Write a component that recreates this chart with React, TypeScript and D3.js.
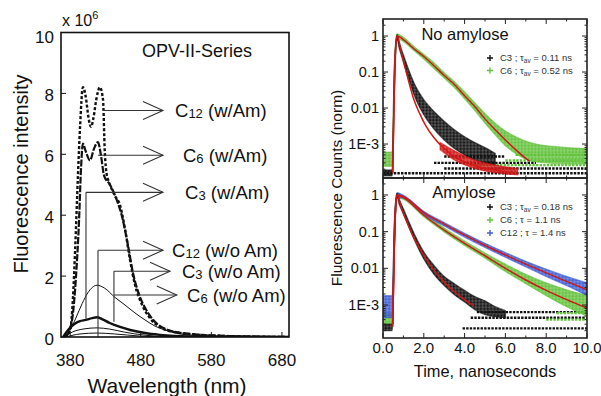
import React from 'react';
import * as d3 from 'd3';

// ---------- left: emission spectra (intensity, x 1e6) ----------
const wlC12Am = [372.7, 380, 384, 387, 391, 394, 398, 402, 406, 409.5, 413, 417, 422, 426.5, 429, 432, 434, 443, 451, 458, 465, 472, 482, 493, 507, 528, 564, 606, 690];
const inC12Am = [0, 0.23, 1.3, 2.85, 5.3, 6.9, 8.2, 7.9, 7.2, 6.9, 7.2, 7.8, 8.2, 7.8, 6.1, 5.3, 5.15, 4.65, 4.3, 3.5, 2.5, 1.7, 1.05, 0.62, 0.33, 0.16, 0.07, 0.03, 0];
const wlC6Am = [374, 382.6, 388, 392.5, 395.3, 398, 402, 408, 414, 419.4, 423.7, 428, 436.4, 446, 453, 462, 469, 477.5, 487.4, 500, 518.6, 550, 606, 690];
const inC6Am = [0, 0.55, 1.9, 3.8, 5.5, 6.35, 6.1, 5.8, 6.2, 6.4, 5.95, 5.3, 5.0, 4.5, 4.0, 3.0, 2.1, 1.4, 0.9, 0.5, 0.23, 0.1, 0.03, 0];
const wlThin = [371, 380, 388, 397, 405, 418, 429, 443.5, 457.7, 471.8, 486, 500, 514, 535.6, 578, 690];
const inThin = [0, 0.23, 0.62, 1.1, 1.45, 1.7, 1.6, 1.3, 1.05, 0.79, 0.56, 0.36, 0.23, 0.1, 0.03, 0];
const wlThick = [370, 377, 386, 394, 402, 411, 418, 425, 436, 450.6, 465, 486, 507, 550, 690];
const inThick = [0, 0.23, 0.43, 0.52, 0.56, 0.62, 0.65, 0.59, 0.46, 0.33, 0.23, 0.13, 0.07, 0.02, 0];
const wlLow = [371, 387, 401, 418, 436, 457, 486, 535, 690];
const inLow = [0, 0.2, 0.27, 0.3, 0.26, 0.16, 0.06, 0, 0];
const wlLowest = [374, 394, 418, 443, 479, 521, 690];
const inLowest = [0, 0.1, 0.13, 0.1, 0.03, 0, 0];

const wlTicks = [380, 480, 580, 680];
const intTicks = [0, 2, 4, 6, 8, 10];

// callouts: leader level (x1e6), where it starts (nm), where the vertical leg ends, arrow tip (nm)
const calloutSub = ['12', '6', '3', '12', '3', '6'];
const calloutNote = ['(w/Am)', '(w/Am)', '(w/Am)', '(w/o  Am)', '(w/o Am)', '(w/o Am)'];
const calloutLevel = [7.44, 5.97, 4.75, 2.85, 2.16, 1.38];
const calloutFrom = [426.5, 419.4, 402.4, 419.4, 442, 442];
const calloutDrop: (number | null)[] = [null, null, 0.6, 0, 0.5, null];
const calloutTip = [511.5, 511.5, 511.5, 511.5, 521.4, 531];
const calloutText = [528.5, 539.8, 542.7, 524.3, 538.4, 545.5];

// ---------- right: decays, no amylose ----------
const tNoC3 = [0, 0.45, 0.55, 0.62, 0.69, 0.8, 1.0, 1.3, 1.6, 2.0, 2.5, 3.0, 3.5, 4.0, 4.5, 5.0, 5.5];
const loNoC3 = [1.3e-4, 1.3e-4, 0.02, 0.3, 0.8, 0.45, 0.19, 0.055, 0.018, 6.5e-3, 2.6e-3, 1.3e-3, 7.5e-4, 5e-4, 3.6e-4, 3e-4, 2.6e-4];
const hiNoC3 = [1.9e-4, 1.9e-4, 0.1, 0.6, 1.1, 0.65, 0.3, 0.1, 0.04, 0.017, 8e-3, 4.3e-3, 2.5e-3, 1.6e-3, 1.1e-3, 8e-4, 5.5e-4];
const tNoC6 = [0, 0.45, 0.55, 0.62, 0.69, 1.0, 1.5, 2.0, 2.5, 3.0, 3.5, 4.0, 4.5, 5.0, 5.5, 6.0, 6.5, 7.0, 7.5, 8.0, 9.0, 10.0];
const loNoC6 = [2.4e-4, 2.4e-4, 0.03, 0.4, 0.85, 0.7, 0.4, 0.23, 0.125, 0.068, 0.037, 0.018, 8.5e-3, 3.8e-3, 1.8e-3, 9e-4, 5.5e-4, 3.8e-4, 3.2e-4, 3e-4, 2.8e-4, 2.8e-4];
const hiNoC6 = [6e-4, 6e-4, 0.12, 0.65, 1.15, 0.92, 0.52, 0.31, 0.18, 0.095, 0.054, 0.028, 0.014, 7e-3, 3.8e-3, 2.3e-3, 1.6e-3, 1.2e-3, 1e-3, 9e-4, 8e-4, 7.5e-4];
const tNoRed = [2.8, 3.5, 4.5, 5.5, 6.6];
const loNoRed = [7e-4, 3.6e-4, 2.1e-4, 1.6e-4, 1.4e-4];
const hiNoRed = [1.1e-3, 6.5e-4, 3.6e-4, 2.6e-4, 2.1e-4];
const tFitNoC3 = [0.48, 0.6, 0.69, 0.9, 1.1, 1.3, 1.5, 1.8, 2.1, 2.5, 3.0, 3.5, 4.0, 4.5, 5.0, 5.5, 6.0, 6.5];
const fitNoC3 = [1.6e-4, 0.3, 1, 0.35, 0.12, 0.045, 0.018, 7e-3, 3.2e-3, 1.5e-3, 7.5e-4, 4.5e-4, 3.2e-4, 2.5e-4, 2.1e-4, 1.9e-4, 1.7e-4, 1.6e-4];
const tFitNoC6 = [0.48, 0.6, 0.69, 1.0, 1.5, 2.0, 2.5, 3.0, 3.5, 4.0, 4.5, 5.0, 5.5, 6.0, 6.5, 7.0, 7.2];
const fitNoC6 = [1.6e-4, 0.3, 1, 0.8, 0.45, 0.27, 0.15, 0.08, 0.045, 0.022, 0.011, 5e-3, 2.5e-3, 1.3e-3, 7e-4, 4e-4, 3.3e-4];
const floorNoLevel = [1.55e-4, 2.1e-4, 3e-4, 4.5e-4, 2.6e-4, 3.5e-4, 5e-4];
const floorNoStart = [0, 3, 2.5, 3, 4.5, 6, 6.5];
const floorNoEnd = [10, 10, 7.5, 6, 10, 10, 10];
const floorNoSeries = ['C3', 'C3', 'C3', 'C3', 'C6', 'C6', 'C6'];

// ---------- right: decays, amylose ----------
const tAmC3 = [0, 0.45, 0.55, 0.62, 0.69, 0.8, 1.0, 1.3, 1.6, 2.0, 2.5, 3.0, 3.5, 4.0, 4.5, 5.0, 5.5, 6.0];
const loAmC3 = [2e-4, 2e-4, 0.03, 0.35, 0.85, 0.55, 0.3, 0.12, 0.05, 0.018, 6.8e-3, 3.4e-3, 1.9e-3, 1.2e-3, 7.5e-4, 5.5e-4, 4.8e-4, 4.5e-4];
const hiAmC3 = [3e-4, 3e-4, 0.12, 0.65, 1.1, 0.75, 0.42, 0.17, 0.072, 0.028, 0.012, 6e-3, 3.8e-3, 2.5e-3, 1.7e-3, 1.3e-3, 9e-4, 7e-4];
const tAm = [0, 0.45, 0.55, 0.62, 0.69, 1, 2, 3, 4, 5, 6, 7, 8, 9, 10];
const loAmC6 = [3e-4, 3e-4, 0.03, 0.35, 0.85, 0.76, 0.255, 0.098, 0.042, 0.019, 8.2e-3, 3.8e-3, 1.8e-3, 9e-4, 5e-4];
const hiAmC6 = [6e-4, 6e-4, 0.12, 0.65, 1.12, 0.93, 0.31, 0.125, 0.055, 0.026, 0.013, 6.8e-3, 4e-3, 2.6e-3, 1.8e-3];
const loAmC12 = [4.5e-4, 4.5e-4, 0.03, 0.35, 0.85, 0.82, 0.295, 0.142, 0.071, 0.037, 0.02, 0.011, 6e-3, 3.4e-3, 1.8e-3];
const hiAmC12 = [1.8e-3, 1.8e-3, 0.12, 0.65, 1.15, 0.98, 0.36, 0.177, 0.09, 0.048, 0.027, 0.0155, 9.5e-3, 6e-3, 4e-3];
const tFitAmC3 = [0.48, 0.6, 0.69, 0.9, 1.2, 1.5, 1.8, 2.2, 2.6, 3.0, 3.5, 4.0, 4.45];
const fitAmC3 = [2.5e-4, 0.3, 1, 0.45, 0.17, 0.07, 0.035, 0.015, 7.5e-3, 4.2e-3, 2.3e-3, 1.4e-3, 9.5e-4];
const tFitAm = [0.48, 0.6, 0.69, 1, 2, 3, 4, 5, 6, 7, 8, 9, 10];
const fitAmC6 = [3e-4, 0.3, 1, 0.85, 0.28, 0.11, 0.048, 0.022, 0.01, 4.8e-3, 2.5e-3, 1.4e-3, 8.2e-4];
const fitAmC12 = [3e-4, 0.3, 1, 0.9, 0.33, 0.16, 0.08, 0.042, 0.023, 0.013, 7.5e-3, 4.4e-3, 2.6e-3];
const floorAmLevel = [6.4e-4, 4.5e-4, 2.3e-4, 6e-4, 4e-4];
const floorAmStart = [4.6, 4.3, 3.9, 8.5, 8];
const floorAmEnd = [10, 10, 10, 10, 10];
const floorAmSeries = ['C3', 'C3', 'C3', 'C6', 'C6'];

const legendNoName = ['C3', 'C6'];
const legendNoTau = ['0.11', '0.52'];
const legendAmName = ['C3', 'C6', 'C12'];
const legendAmTau = ['0.18', '1.1', '1.4'];
const legendAmAvg = [true, false, false];

const decayTicks = [0, 2, 4, 6, 8, 10];
const decayYTicks = [1, 0.1, 0.01, 0.001];
const decayYLabels = ['1', '0.1', '0.01', '1E-3'];

const FONT = "'Liberation Sans', Arial, Helvetica, sans-serif";
const COLOR: Record<string, string> = { C3: '#111111', C6: '#62c23c', C12: '#3f5fd4', R: '#d01818' };
const RED = COLOR.R;

const App: React.FC = () => {
  // left panel
  const x = d3.scaleLinear().domain([367, 690]).range([61, 289]);
  const y = d3.scaleLinear().domain([0, 10]).range([337, 32.5]);
  const spec = d3.line<[number, number]>()
    .x(d => x(d[0])).y(d => y(d[1])).curve(d3.curveMonotoneX);
  const spectra = [
    { wl: wlLowest, v: inLowest, w: 1, dash: undefined },
    { wl: wlLow, v: inLow, w: 1, dash: undefined },
    { wl: wlThick, v: inThick, w: 2.4, dash: undefined },
    { wl: wlThin, v: inThin, w: 1, dash: undefined },
    { wl: wlC6Am, v: inC6Am, w: 2.2, dash: '7 1.6' },
    { wl: wlC12Am, v: inC12Am, w: 2.4, dash: '3 2' },
  ];

  // right panel
  const tx = d3.scaleLinear().domain([0, 10]).range([383, 587]);
  const yNo = d3.scaleLog().domain([1.14e-4, 2.97]).range([178, 19]);
  const yAm = d3.scaleLog().domain([1.26e-4, 2.9]).range([338, 178]);

  const band = (ys: d3.ScaleLogarithmic<number, number>, t: number[], lo: number[], hi: number[]) =>
    d3.area<number>().x(i => tx(t[i])).y0(i => ys(lo[i])).y1(i => ys(hi[i])).curve(d3.curveMonotoneX)(d3.range(t.length)) || '';
  const fit = (ys: d3.ScaleLogarithmic<number, number>, t: number[], v: number[]) =>
    d3.line<number>().x(i => tx(t[i])).y(i => ys(v[i])).curve(d3.curveMonotoneX)(d3.range(t.length)) || '';

  const logMinor = (ys: d3.ScaleLogarithmic<number, number>) => {
    const [a, b] = ys.domain();
    const out: { v: number; major: boolean }[] = [];
    for (let e = -4; e <= 0; e++) for (let m = 1; m <= 9; m++) {
      const v = m * Math.pow(10, e);
      if (v >= a && v <= b) out.push({ v, major: m === 1 });
    }
    return out;
  };

  const plus = (cx: number, cy: number, s: number) => `M${cx - s},${cy}H${cx + s}M${cx},${cy - s}V${cy + s}`;

  const frame = (ys: d3.ScaleLogarithmic<number, number>, top: number, bottom: number, key: string) => (
    <g key={key}>
      {logMinor(ys).map((d, i) => {
        const len = d.major ? 5 : 2.5;
        return (
          <g key={i}>
            <line x1={383} x2={383 + len} y1={ys(d.v)} y2={ys(d.v)} stroke="#222" strokeWidth={1} />
            <line x1={587} x2={587 - len} y1={ys(d.v)} y2={ys(d.v)} stroke="#222" strokeWidth={1} />
          </g>
        );
      })}
      {d3.range(0, 10.01, 1).map((v, i) => {
        const len = v % 2 === 0 ? 5 : 2.5;
        return (
          <g key={'t' + i}>
            <line x1={tx(v)} x2={tx(v)} y1={top} y2={top + len} stroke="#222" strokeWidth={1} />
            <line x1={tx(v)} x2={tx(v)} y1={bottom} y2={bottom - len} stroke="#222" strokeWidth={1} />
          </g>
        );
      })}
      {decayYTicks.map((v, i) => (
        <text key={'l' + i} x={379} y={ys(v)} dy="0.35em" textAnchor="end" fontSize={14.5} fill="#111">{decayYLabels[i]}</text>
      ))}
      <rect x={383} y={top} width={204} height={bottom - top} fill="none" stroke="#222" strokeWidth={1.6} />
    </g>
  );

  const floors = (ys: d3.ScaleLogarithmic<number, number>, lv: number[], s: number[], e: number[], ser: string[]) =>
    lv.map((v, i) => (
      <line key={'f' + i} x1={tx(s[i])} x2={tx(e[i])} y1={ys(v)} y2={ys(v)}
        stroke={COLOR[ser[i]]} strokeWidth={2.4} strokeDasharray="2.4 1.2" />
    ));

  // scatter look: dense band with a tile of small plus markers on top
  const cloud = (d: string, key: string, id: string) => (
    <g key={key}>
      <path d={d} fill={COLOR[id]} fillOpacity={0.72} stroke={COLOR[id]} strokeWidth={1.3} strokeOpacity={0.6} />
      <path d={d} fill={`url(#pl${id})`} stroke="none" />
    </g>
  );

  return (
    <svg width={601} height={396} viewBox="0 0 601 396"
      style={{ position: 'absolute', left: 0, top: 0, background: '#fff' }} fontFamily={FONT}>
      <rect width={601} height={396} fill="#fff" />
      <defs>
        <clipPath id="clipL"><rect x={61} y={32} width={228} height={305} /></clipPath>
        <clipPath id="clipNo"><rect x={383} y={19} width={204} height={159} /></clipPath>
        <clipPath id="clipAm"><rect x={383} y={178} width={204} height={160} /></clipPath>
        {Object.keys(COLOR).map(k => (
          <pattern key={k} id={'pl' + k} width={3.4} height={3.2} patternUnits="userSpaceOnUse">
            <path d="M0.2,1.6H3.0M1.6,0.2V3.0" stroke={COLOR[k]} strokeWidth={1} />
          </pattern>
        ))}
      </defs>

      {/* ---------------- left panel ---------------- */}
      <g clipPath="url(#clipL)">
        {spectra.map((s, i) => (
          <path key={i} d={spec(d3.zip(s.wl, s.v) as [number, number][]) || ''} fill="none"
            stroke="#111" strokeWidth={s.w} strokeDasharray={s.dash} strokeLinejoin="round" />
        ))}
      </g>
      {calloutLevel.map((lv, i) => {
        const yy = y(lv);
        const x0 = x(calloutFrom[i]);
        const tip = x(calloutTip[i]);
        const drop = calloutDrop[i];
        return (
          <g key={'c' + i}>
            {drop !== null && <line x1={x0} x2={x0} y1={yy} y2={y(drop)} stroke="#333" strokeWidth={1.1} />}
            <line x1={x0} x2={tip} y1={yy} y2={yy} stroke="#333" strokeWidth={1.1} />
            <path d={`M${tip - 20},${yy - 9}L${tip},${yy}L${tip - 20},${yy + 9}`} fill="none" stroke="#333" strokeWidth={1.1} />
            <text x={x(calloutText[i])} y={yy + 7} fontSize={18.5} fill="#111">
              C<tspan fontSize={13} dy={1}>{calloutSub[i]}</tspan>
              <tspan dy={-1}>{(i === 3 ? '  ' : ' ') + calloutNote[i]}</tspan>
            </text>
          </g>
        );
      })}
      {intTicks.map(v => (
        <g key={'yi' + v}>
          <line x1={61} x2={66} y1={y(v)} y2={y(v)} stroke="#111" strokeWidth={1} />
          <text x={54} y={y(v) + (v === 10 ? 5 : 2)} dy="0.35em" textAnchor="end" fontSize={17} fill="#111">{v}</text>
        </g>
      ))}
      {wlTicks.map(v => (
        <g key={'xw' + v}>
          <line x1={x(v)} x2={x(v)} y1={337} y2={332} stroke="#111" strokeWidth={1} />
          <text x={x(v)} y={366} textAnchor="middle" fontSize={17} fill="#111">{v}</text>
        </g>
      ))}
      <rect x={61} y={32.5} width={228} height={304.5} fill="none" stroke="#111" strokeWidth={1.6} />
      <text x={62} y={26} fontSize={16} fill="#111">x 10<tspan fontSize={11} dy={-7}>6</tspan></text>
      <text x={197} y={57} textAnchor="middle" fontSize={18} fill="#111">OPV-II-Series</text>
      <text transform="translate(28,174) rotate(-90)" textAnchor="middle" fontSize={20} fill="#111">Fluorescence intensity</text>
      <text x={167} y={393} textAnchor="middle" fontSize={21} fill="#111">Wavelength (nm)</text>

      {/* ---------------- right panel: no amylose ---------------- */}
      <g clipPath="url(#clipNo)">
        {cloud(band(yNo, tNoC6, loNoC6, hiNoC6), 'n6', 'C6')}
        {floors(yNo, floorNoLevel, floorNoStart, floorNoEnd, floorNoSeries)}
        {cloud(band(yNo, tNoC3, loNoC3, hiNoC3), 'n3', 'C3')}
        {cloud(band(yNo, tNoRed, loNoRed, hiNoRed), 'nr', 'R')}
        <path d={fit(yNo, tFitNoC6, fitNoC6)} fill="none" stroke={RED} strokeWidth={1.5} />
        <path d={fit(yNo, tFitNoC3, fitNoC3)} fill="none" stroke={RED} strokeWidth={1.5} />
      </g>
      {frame(yNo, 19, 178, 'fno')}
      <text x={465} y={40} textAnchor="middle" fontSize={16.5} fill="#111">No amylose</text>
      {legendNoName.map((n, i) => (
        <g key={'ln' + i}>
          <path d={plus(490, 58 + i * 12.5, 3)} stroke={COLOR[n]} strokeWidth={1.4} />
          <text x={500} y={58 + i * 12.5} dy="0.35em" fontSize={9.5} fill="#333">
            {n} ; τ<tspan fontSize={6.5} dy={2}>av</tspan><tspan dy={-2}> = {legendNoTau[i]} ns</tspan>
          </text>
        </g>
      ))}

      {/* ---------------- right panel: amylose ---------------- */}
      <g clipPath="url(#clipAm)">
        {floors(yAm, floorAmLevel, floorAmStart, floorAmEnd, floorAmSeries)}
        {cloud(band(yAm, tAm, loAmC6, hiAmC6), 'a6', 'C6')}
        {cloud(band(yAm, tAm, loAmC12, hiAmC12), 'a12', 'C12')}
        {cloud(band(yAm, tAmC3, loAmC3, hiAmC3), 'a3', 'C3')}
        <path d={fit(yAm, tFitAm, fitAmC6)} fill="none" stroke={RED} strokeWidth={1.5} />
        <path d={fit(yAm, tFitAm, fitAmC12)} fill="none" stroke={RED} strokeWidth={1.5} />
        <path d={fit(yAm, tFitAmC3, fitAmC3)} fill="none" stroke={RED} strokeWidth={1.5} />
      </g>
      {frame(yAm, 178, 338, 'fam')}
      <text x={464} y={198} textAnchor="middle" fontSize={16.5} fill="#111">Amylose</text>
      {legendAmName.map((n, i) => (
        <g key={'la' + i}>
          <path d={plus(490, 207 + i * 13, 3)} stroke={COLOR[n]} strokeWidth={1.4} />
          <text x={500} y={207 + i * 13} dy="0.35em" fontSize={9.5} fill="#333">
            {n} ; {legendAmAvg[i] ? <>{' '}τ<tspan fontSize={6.5} dy={2}>av</tspan><tspan dy={-2}> = {legendAmTau[i]} ns</tspan></> : <>τ = {legendAmTau[i]} ns</>}
          </text>
        </g>
      ))}
      {decayTicks.map(v => (
        <text key={'xt' + v} x={tx(v)} y={352.5} textAnchor="middle" fontSize={15} fill="#111">{d3.format('.1f')(v)}</text>
      ))}
      <text x={485} y={377} textAnchor="middle" fontSize={16.4} fill="#111">Time, nanoseconds</text>
      <text transform="translate(342,188) rotate(-90)" textAnchor="middle" fontSize={15.5} fill="#111">Fluorescence Counts (norm)</text>
    </svg>
  );
};

export default App;
